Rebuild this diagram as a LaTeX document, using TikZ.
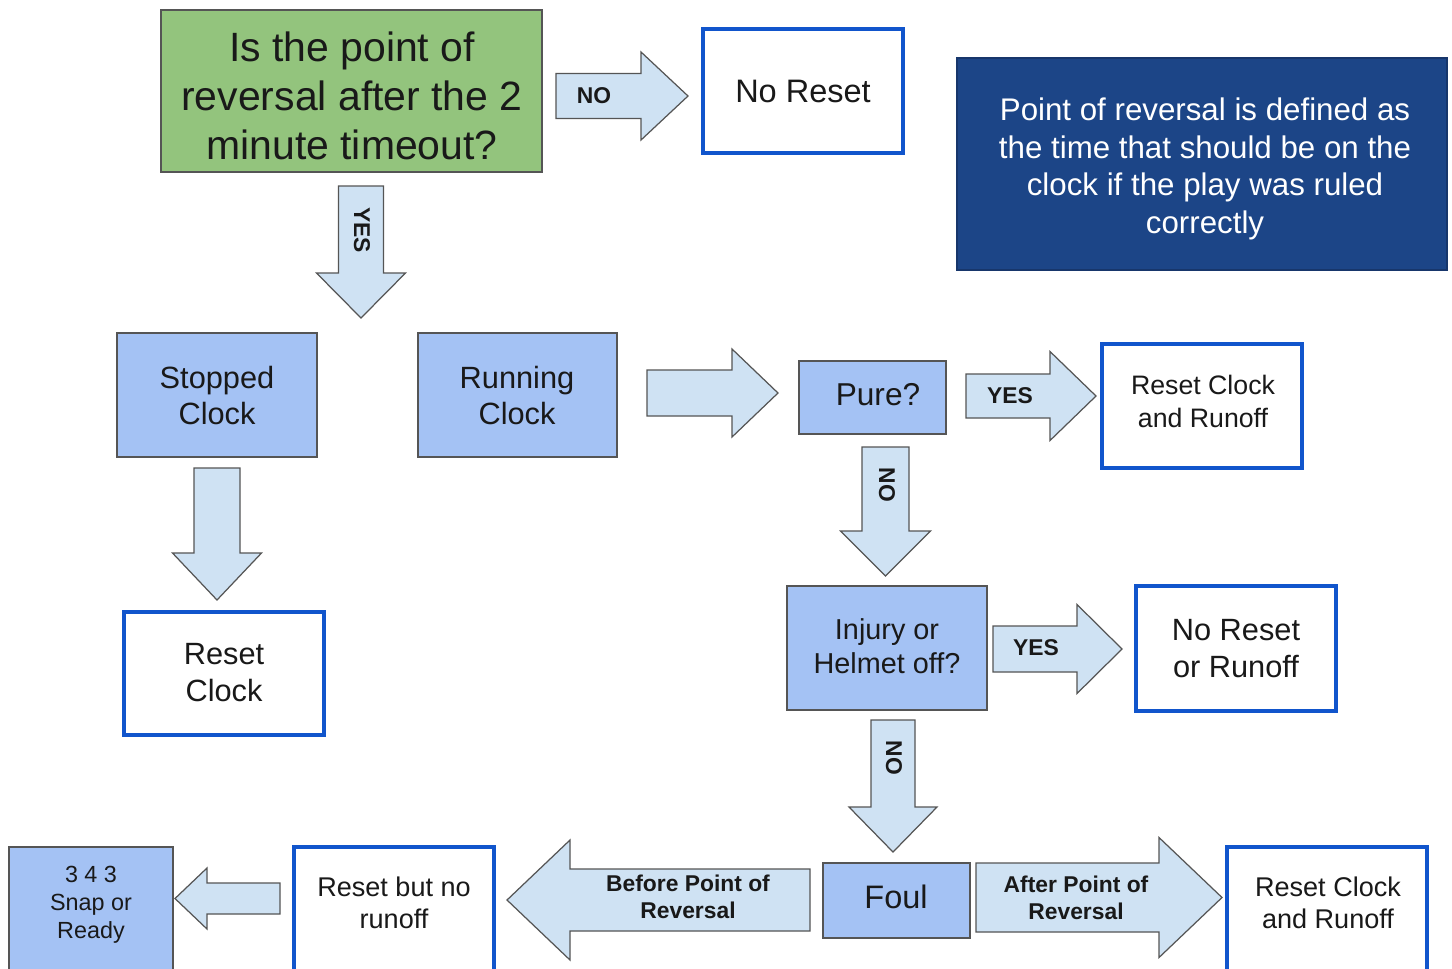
\documentclass[tikz,border=0pt]{standalone}
\usepackage{fontspec}
\setmainfont{Liberation Sans}
\definecolor{qgreen}{HTML}{93C47D}
\definecolor{qblue}{HTML}{A4C2F4}
\definecolor{arrfill}{HTML}{CFE2F3}
\definecolor{navy}{HTML}{1C4587}
\definecolor{navyline}{HTML}{17366B}
\definecolor{bborder}{HTML}{1155CC}
\definecolor{gline}{HTML}{555555}
% box: name, style, x1, y1, x2, y2
\newcommand{\bx}[6]{\node[#2, minimum width={(#5-#3)*0.02cm}, minimum height={(#6-#4)*0.02cm}] (#1) at ({(#3+#5)/2},{(#4+#6)/2}) {};}
% horizontal block arrow: name, xs, xh, xt, yc, half shaft, half head
\newcommand{\harr}[7]{\draw[blockarr] (#2,#5-#6) -- (#3,#5-#6) -- (#3,#5-#7) -- (#4,#5) coordinate (#1) -- (#3,#5+#7) -- (#3,#5+#6) -- (#2,#5+#6) -- cycle;}
% vertical block arrow: name, xc, ys, yh, yt, half shaft, half head
\newcommand{\varr}[7]{\draw[blockarr] (#2-#6,#3) -- (#2-#6,#4) -- (#2-#7,#4) -- (#2,#5) coordinate (#1) -- (#2+#7,#4) -- (#2+#6,#4) -- (#2+#6,#3) -- cycle;}
\tikzset{
  qbox/.style={draw=gline, line width=0.9pt, fill=qblue, inner sep=0pt, outer sep=0pt},
  rbox/.style={draw=bborder, line width=2.3pt, fill=white, inner sep=0pt, outer sep=0pt},
  txt/.style={align=center, inner sep=0pt, text=black!90, font=\fontsize{17.5}{21}\selectfont},
  blockarr/.style={draw=gline, line width=0.7pt, fill=arrfill, line join=miter},
  lbl/.style={font=\bfseries\fontsize{13}{15.5}\selectfont, align=center, inner sep=0pt, text=black!90},
}
\begin{document}
\begin{tikzpicture}[x=0.02cm, y=-0.02cm]
\clip (0,0) rectangle (1452,968);
\useasboundingbox (0,0) rectangle (1452,968);
\fill[white] (0,0) rectangle (1452,968);

% boxes
\bx{q}{qbox, fill=qgreen}{161}{10}{542}{172}
\node[txt, font=\fontsize{23.3}{27.8}\selectfont] (qt) at (352,96) {Is the point of\\reversal after the 2\\minute timeout?};
\bx{noreset}{rbox}{703}{29}{903}{153}
\node[txt, font=\fontsize{18.5}{22}\selectfont] (noresett) at (803,91) {No Reset};
\bx{def}{draw=navyline, line width=1.2pt, fill=navy, inner sep=0pt}{957}{58}{1447}{270}
\node[txt, text=white, font=\fontsize{17.8}{21.3}\selectfont] (deft) at (1205,169) {Point of reversal is defined as\\the time that should be on the\\clock if the play was ruled\\correctly};
\bx{stopped}{qbox}{117}{333}{317}{457}
\node[txt] (stoppedt) at (217,395.5) {Stopped\\Clock};
\bx{running}{qbox}{418}{333}{617}{457}
\node[txt] (runningt) at (517,395.5) {Running\\Clock};
\bx{pure}{qbox}{799}{361}{946}{434}
\node[txt, font=\fontsize{18}{21}\selectfont] (puret) at (878,394.5) {Pure?};
\bx{resetrun1}{rbox}{1102}{344}{1302}{468}
\node[txt, font=\fontsize{15.2}{18.7}\selectfont] (resetrun1t) at (1203,401.5) {Reset Clock\\and Runoff};
\bx{resetclock}{rbox}{124}{612}{324}{735}
\node[txt] (resetclockt) at (224,673) {Reset\\Clock};
\bx{injury}{qbox}{787}{586}{987}{710}
\node[txt, font=\fontsize{16.4}{19.3}\selectfont] (injuryt) at (887,646) {Injury or\\Helmet off?};
\bx{noresetrun}{rbox}{1136}{586}{1336}{711}
\node[txt] (noresetrunt) at (1236,648.5) {No Reset\\or Runoff};
\bx{foul}{qbox}{823}{863}{970}{938}
\node[txt, font=\fontsize{18.5}{21}\selectfont] (foult) at (896,896.5) {Foul};
\bx{resetrun2}{rbox}{1227}{847}{1427}{1030}
\node[txt, font=\fontsize{15.4}{18.3}\selectfont] (resetrun2t) at (1328,903) {Reset Clock\\and Runoff};
\bx{resetnorun}{rbox}{294}{847}{494}{1030}
\node[txt, font=\fontsize{15.4}{18.3}\selectfont] (resetnorunt) at (394,903) {Reset but no\\runoff};
\bx{snap}{qbox}{9}{847}{173}{1030}
\node[txt, font=\fontsize{13.3}{15.9}\selectfont] (snapt) at (91,905) {3 4 3\\Snap or\\Ready};

% block arrows
\harr{a1}{556}{641}{688}{96}{22.5}{44}
\varr{a2}{361}{186}{273}{318}{22.5}{44.5}
\harr{a3}{647}{732}{778}{393}{23}{44}
\harr{a4}{966}{1050}{1096}{396}{22}{44.5}
\varr{a5}{217}{468}{553}{600}{23}{44.5}
\varr{a6}{885.5}{447}{531}{576}{23.5}{45}
\harr{a7}{993}{1077}{1122}{649}{23}{44.5}
\varr{a8}{893}{720}{807}{852}{22}{44}
\harr{a9}{810}{570}{507}{900}{31}{60}
\harr{a10}{976}{1159}{1222}{897.5}{34.5}{60}
\harr{a11}{280}{207}{175}{898.5}{15.5}{30.5}

% arrow labels
\node[lbl] (l1) at (594,96) {NO};
\node[lbl, rotate=-90] (l2) at (362,230) {YES};
\node[lbl] (l4) at (1010,396) {YES};
\node[lbl, rotate=-90] (l6) at (887,485) {NO};
\node[lbl] (l7) at (1036,648) {YES};
\node[lbl, rotate=-90] (l8) at (894,758) {NO};
\node[lbl] (l9) at (688,897) {Before Point of\\Reversal};
\node[lbl] (l10) at (1076,898) {After Point of\\Reversal};
\end{tikzpicture}
\end{document}
